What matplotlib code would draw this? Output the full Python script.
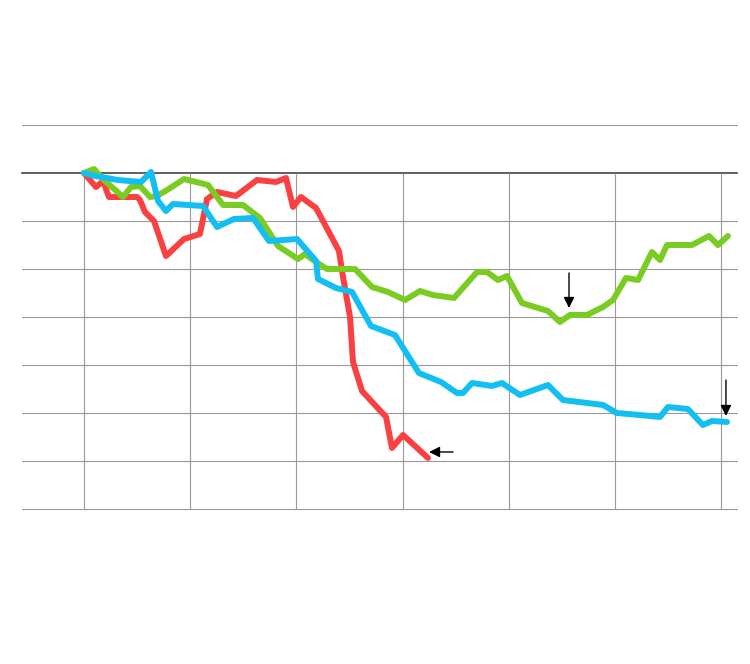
import matplotlib
matplotlib.use('Agg')
import matplotlib.pyplot as plt

# x in grid periods (one vertical gridline per period), y as index (start = 100)
red_x = [0, 0.113, 0.179, 0.235, 0.499, 0.527, 0.574, 0.659, 0.772, 0.942, 1.092, 1.158,
         1.252, 1.431, 1.629, 1.808, 1.902, 1.968, 2.043, 2.185, 2.401, 2.439, 2.505, 2.533,
         2.618, 2.844, 2.900, 3.004, 3.239]
red_y = [100, 97.08, 98.33, 95.0, 95.0, 94.38, 91.88, 90.0, 82.71, 86.25, 87.29, 94.58,
         96.04, 95.21, 98.54, 98.13, 98.96, 92.92, 95.0, 92.71, 83.75, 78.33, 70.0, 60.63,
         54.58, 49.17, 42.71, 45.42, 40.63]

green_x = [0, 0.094, 0.188, 0.273, 0.367, 0.443, 0.527, 0.621, 0.687, 0.782, 0.942, 1.168,
           1.309, 1.497, 1.657, 1.827, 2.015, 2.081, 2.185, 2.288, 2.552, 2.712, 2.862, 3.023,
           3.164, 3.286, 3.484, 3.701, 3.795, 3.898, 3.983, 4.124, 4.369, 4.482, 4.576, 4.736,
           4.887, 4.981, 5.104, 5.217, 5.348, 5.424, 5.490, 5.725, 5.885, 5.970, 6.064]
green_y = [100, 100.83, 98.54, 96.88, 95.0, 97.08, 97.29, 95.0, 95.21, 96.46, 98.75, 97.5,
           93.33, 93.33, 90.63, 84.79, 82.08, 83.13, 81.46, 80.0, 80.0, 76.25, 75.21, 73.54,
           75.42, 74.58, 73.96, 79.38, 79.38, 77.71, 78.54, 72.92, 71.25, 68.96, 70.42, 70.42,
           72.08, 73.54, 78.13, 77.71, 83.54, 81.88, 85.0, 85.0, 86.88, 85.0, 86.88]

blue_x = [0, 0.104, 0.320, 0.537, 0.631, 0.697, 0.772, 0.838, 1.121, 1.252, 1.412, 1.591,
          1.742, 2.006, 2.185, 2.203, 2.373, 2.524, 2.702, 2.928, 3.154, 3.362, 3.512, 3.569,
          3.653, 3.842, 3.936, 4.105, 4.369, 4.510, 4.887, 5.019, 5.235, 5.424, 5.499, 5.687,
          5.828, 5.913, 6.055]
blue_y = [100, 99.38, 98.54, 98.13, 100.21, 94.17, 92.08, 93.54, 93.13, 88.75, 90.42, 90.63,
          85.83, 86.25, 81.67, 77.92, 76.04, 75.21, 68.13, 66.25, 58.33, 56.46, 54.17, 54.17,
          56.25, 55.63, 56.25, 53.75, 55.83, 52.71, 51.67, 50.0, 49.58, 49.17, 51.25, 50.83,
          47.5, 48.33, 48.13]

# arrows: (tail x, tail y, tip x, tip y)
arrows = [(3.475, 41.88, 3.249, 41.88),
          (4.567, 79.17, 4.567, 71.88),
          (6.045, 56.88, 6.045, 49.38)]

fig = plt.figure(figsize=(7.5, 6.64), dpi=100)
ax = fig.add_axes([22 / 750, 1 - 509 / 664, 715 / 750, 384 / 664])
ax.set_xlim(-0.584, 6.149)
ax.set_ylim(30, 110)
ax.axis('off')

for y in range(30, 111, 10):
    if y == 100:
        ax.axhline(y, color='#444444', lw=1.2, zorder=1, clip_on=False)
    else:
        ax.axhline(y, color='#999999', lw=0.8, zorder=1, clip_on=False)
ax.vlines(range(0, 7), 30, 100, color='#999999', lw=0.8, zorder=1, clip_on=False)

style = dict(lw=4.3, solid_joinstyle='round', solid_capstyle='round')
ax.plot(red_x, red_y, color='#FA4040', zorder=3, **style)
ax.plot(green_x, green_y, color='#7ACC22', zorder=4, **style)
ax.plot(blue_x, blue_y, color='#12BEF2', zorder=5, **style)

for x0, y0, x1, y1 in arrows:
    ax.annotate('', xy=(x1, y1), xytext=(x0, y0),
                arrowprops=dict(arrowstyle='-|>', color='black', lw=1, mutation_scale=16,
                                shrinkA=0, shrinkB=0), zorder=6)

fig.savefig('out.png', dpi=100)
